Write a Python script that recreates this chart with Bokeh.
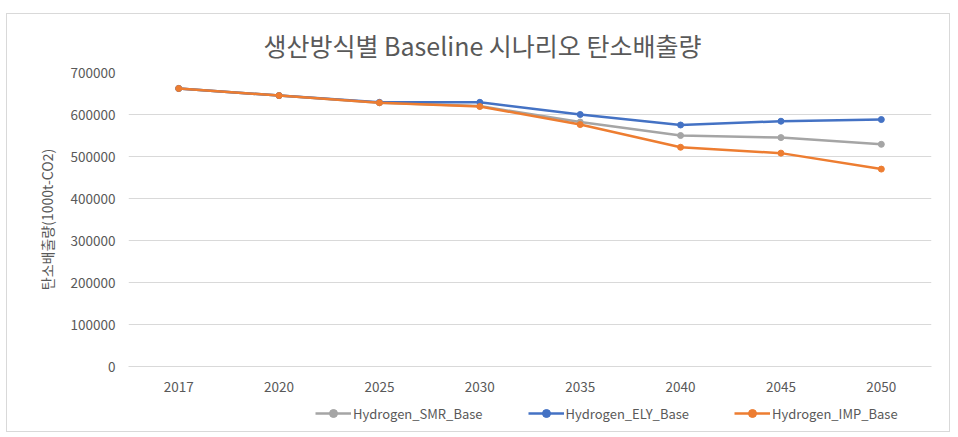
from bokeh.plotting import figure
from bokeh.layouts import column
from bokeh.models import Legend, LegendItem, NumeralTickFormatter, FixedTicker, Range1d
from bokeh.embed import file_html
from bokeh.resources import INLINE

years = ["2017", "2020", "2025", "2030", "2035", "2040", "2045", "2050"]
smr = [662000, 645000, 628000, 620000, 582000, 550000, 545000, 529000]
ely = [662000, 645000, 629000, 629000, 600000, 575000, 584000, 588000]
imp = [662000, 645000, 628000, 619000, 576000, 522000, 508000, 470000]
series_names = ["Hydrogen_SMR_Base", "Hydrogen_ELY_Base", "Hydrogen_IMP_Base"]
colors = ["#A5A5A5", "#4472C4", "#ED7D31"]
y_ticks = [0, 100000, 200000, 300000, 400000, 500000, 600000, 700000]

FONT = "Noto Sans CJK KR"
TXT = "#595959"

p = figure(x_range=years, y_range=Range1d(0, 700000), width=942, height=380,
           output_backend="svg", toolbar_location=None,
           min_border_left=121, min_border_right=18, min_border_top=58, min_border_bottom=26)
p.outline_line_color = None

p.title.text = "생산방식별 Baseline 시나리오 탄소배출량"
p.title.align = "left"
p.title.text_font = FONT
p.title.text_font_size = "25px"
p.title.text_font_style = "normal"
p.title.text_color = TXT
p.title.offset = 135
p.title.standoff = 20

for vals, c in zip([smr, ely, imp], colors):
    p.line(years, vals, line_color=c, line_width=2.5)
    p.scatter(years, vals, size=6, fill_color=c, line_color=c)

p.xgrid.grid_line_color = None
p.ygrid.grid_line_color = "#d9d9d9"
p.ygrid.grid_line_width = 1

p.yaxis.ticker = FixedTicker(ticks=y_ticks)
p.yaxis.formatter = NumeralTickFormatter(format="0")
p.yaxis.axis_line_color = None
p.yaxis.major_tick_line_color = None
p.yaxis.minor_tick_line_color = None
p.yaxis.major_label_text_color = TXT
p.yaxis.major_label_text_font = FONT
p.yaxis.major_label_text_font_size = "13.5px"
p.yaxis.major_label_standoff = 7
p.yaxis.axis_label = "탄소배출량(1000t-CO2)"
p.yaxis.axis_label_text_font = FONT
p.yaxis.axis_label_text_font_size = "14px"
p.yaxis.axis_label_text_font_style = "normal"
p.yaxis.axis_label_text_color = TXT
p.yaxis.axis_label_standoff = 11

p.xaxis.axis_line_color = "#d9d9d9"
p.xaxis.major_tick_line_color = None
p.xaxis.minor_tick_line_color = None
p.xaxis.major_label_text_color = TXT
p.xaxis.major_label_text_font = FONT
p.xaxis.major_label_text_font_size = "13.5px"
p.xaxis.major_label_standoff = 9

# legend strip: same series drawn into a small figure whose y-range keeps them out of view
leg = figure(x_range=years, y_range=Range1d(0, 1), width=942, height=37,
             output_backend="svg", toolbar_location=None,
             x_axis_type=None, y_axis_type=None,
             min_border_left=0, min_border_right=0, min_border_top=0, min_border_bottom=0)
leg.outline_line_color = None
leg.xgrid.grid_line_color = None
leg.ygrid.grid_line_color = None
items = []
for name, vals, c in zip(series_names, [smr, ely, imp], colors):
    r1 = leg.line(years, vals, line_color=c, line_width=2.5)
    r2 = leg.scatter(years, vals, size=6, fill_color=c, line_color=c)
    items.append(LegendItem(label=name, renderers=[r1, r2]))

legend = Legend(items=items, orientation="horizontal", location=(187, 8))
legend.border_line_color = None
legend.background_fill_alpha = 0
legend.label_text_font = FONT
legend.label_text_font_size = "13px"
legend.label_text_color = TXT
legend.glyph_width = 36
legend.spacing = 45
legend.label_standoff = 2
legend.padding = 2
legend.margin = 0
leg.add_layout(legend, "center")

layout = column(p, leg, spacing=0)
layout.styles = {"border": "1px solid #d9d9d9", "margin-top": "13px", "margin-left": "6px",
                 "background": "white"}

open("out.html", "w").write(file_html(layout, INLINE))
